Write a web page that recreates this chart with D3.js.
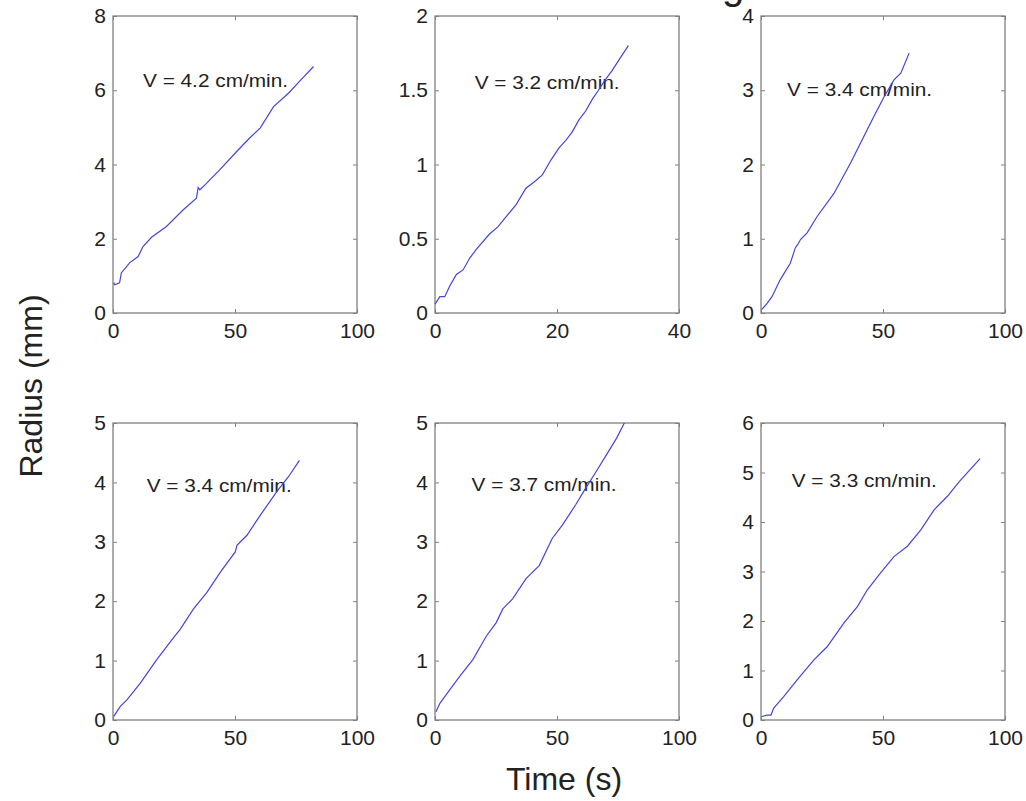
<!DOCTYPE html>
<html>
<head>
<meta charset="utf-8">
<script src="https://cdn.jsdelivr.net/npm/d3@7"></script>
<style>
  body { margin: 0; background: #fff; }
  text { font-family: Arial, "Liberation Sans", sans-serif; }
</style>
</head>
<body>
<div id="chart"></div>
<script>
// ---- data ----
const t1 = [0.3, 0.7, 2.7, 3.4, 6.8, 10.3, 12.3, 15.8, 21.9, 28.8, 34.2, 34.9, 35.6, 37.7, 43.8, 50.7, 55.5, 60.3, 65.8, 71.9, 77.0, 82.2];
const r1 = [0.82, 0.76, 0.81, 1.08, 1.35, 1.52, 1.79, 2.04, 2.33, 2.78, 3.09, 3.38, 3.32, 3.45, 3.86, 4.35, 4.68, 4.98, 5.56, 5.92, 6.28, 6.64];

const t2 = [0.0, 0.8, 1.6, 2.4, 3.5, 4.6, 5.7, 6.8, 8.9, 10.3, 11.7, 13.3, 14.9, 16.2, 17.6, 19.0, 20.3, 21.4, 22.5, 23.6, 24.7, 25.8, 26.8, 27.9, 29.0, 30.4, 31.7];
const r2 = [0.06, 0.11, 0.11, 0.18, 0.26, 0.29, 0.37, 0.43, 0.53, 0.58, 0.65, 0.73, 0.84, 0.88, 0.93, 1.03, 1.11, 1.16, 1.22, 1.30, 1.36, 1.44, 1.50, 1.57, 1.63, 1.72, 1.80];

const t3 = [0.4, 2.5, 4.5, 7.9, 12.0, 14.1, 15.0, 16.2, 18.9, 23.0, 29.9, 36.7, 42.2, 46.3, 50.4, 54.5, 57.3, 60.7];
const r3 = [0.05, 0.13, 0.22, 0.45, 0.67, 0.88, 0.92, 0.99, 1.08, 1.30, 1.61, 2.02, 2.38, 2.65, 2.91, 3.14, 3.23, 3.50];

const t4 = [0.3, 3.0, 5.7, 11.2, 18.0, 24.9, 27.6, 33.0, 38.5, 44.0, 50.1, 50.8, 54.9, 60.4, 67.2, 72.0, 76.4];
const r4 = [0.06, 0.23, 0.34, 0.62, 1.02, 1.39, 1.53, 1.87, 2.15, 2.49, 2.83, 2.94, 3.11, 3.45, 3.85, 4.10, 4.37];

const t5 = [0.4, 2.0, 6.1, 10.2, 15.6, 21.0, 25.1, 27.8, 31.8, 37.3, 42.7, 48.1, 52.2, 57.6, 61.7, 66.0, 70.5, 74.5, 77.6];
const r5 = [0.14, 0.28, 0.51, 0.74, 1.02, 1.41, 1.64, 1.87, 2.04, 2.38, 2.60, 3.06, 3.28, 3.62, 3.90, 4.18, 4.48, 4.75, 5.00];

const t6 = [0.4, 2.5, 4.1, 5.2, 9.3, 14.8, 21.6, 27.1, 34.0, 39.5, 43.6, 49.0, 54.5, 60.0, 65.5, 71.0, 76.4, 81.0, 85.5, 89.8];
const r6 = [0.07, 0.10, 0.10, 0.24, 0.47, 0.81, 1.21, 1.48, 1.96, 2.29, 2.63, 2.97, 3.30, 3.51, 3.84, 4.25, 4.52, 4.80, 5.05, 5.28];

const xMax = [100, 40, 100, 100, 100, 100];
const yMax = [8, 2, 4, 5, 5, 6];
const xTicks = [[0, 50, 100], [0, 20, 40], [0, 50, 100], [0, 50, 100], [0, 50, 100], [0, 50, 100]];
const yTicks = [[0, 2, 4, 6, 8], [0, 0.5, 1, 1.5, 2], [0, 1, 2, 3, 4], [0, 1, 2, 3, 4, 5], [0, 1, 2, 3, 4, 5], [0, 1, 2, 3, 4, 5, 6]];
const speedLabels = ["V = 4.2 cm/min.", "V = 3.2 cm/min.", "V = 3.4 cm/min.", "V = 3.4 cm/min.", "V = 3.7 cm/min.", "V = 3.3 cm/min."];
// label anchor in data units (left edge, baseline)
const labelX = [12.3, 6.5, 10.7, 13.8, 15.0, 12.6];
const labelY = [6.09, 1.51, 2.92, 3.84, 3.85, 4.70];

const times = [t1, t2, t3, t4, t5, t6];
const radii = [r1, r2, r3, r4, r5, r6];

// ---- layout ----
const W = 1026, H = 801;
const colX = [113, 435, 761];
const rowY = [16, 423];
const pw = 244, ph = 297;
const frameColor = "#808080";
const textColor = "#222";

const svg = d3.select("#chart").append("svg")
    .attr("width", W)
    .attr("height", H)
    .style("background", "#fff");

// clipped title descender at the very top (figure is cropped there)
svg.append("text")
    .attr("x", 722)
    .attr("y", -1)
    .attr("font-size", 40)
    .attr("fill", textColor)
    .text("g");

times.forEach((tt, i) => {
    const col = i % 3, row = Math.floor(i / 3);
    const g = svg.append("g")
        .attr("transform", `translate(${colX[col]},${rowY[row]})`);

    const x = d3.scaleLinear().domain([0, xMax[i]]).range([0, pw]);
    const y = d3.scaleLinear().domain([0, yMax[i]]).range([ph, 0]);

    const fmt = d => String(d);

    // bottom + left axes carry the labels, all ticks point inward
    const bx = g.append("g").attr("transform", `translate(0,${ph})`)
        .call(d3.axisBottom(x).tickValues(xTicks[i]).tickFormat(fmt)
            .tickSizeInner(-4).tickSizeOuter(0).tickPadding(10));
    const lx = g.append("g")
        .call(d3.axisLeft(y).tickValues(yTicks[i]).tickFormat(fmt)
            .tickSizeInner(-4).tickSizeOuter(0).tickPadding(7));
    const tx = g.append("g")
        .call(d3.axisTop(x).tickValues(xTicks[i]).tickFormat("")
            .tickSizeInner(-4).tickSizeOuter(0));
    const rx = g.append("g").attr("transform", `translate(${pw},0)`)
        .call(d3.axisRight(y).tickValues(yTicks[i]).tickFormat("")
            .tickSizeInner(-4).tickSizeOuter(0));

    [bx, lx, tx, rx].forEach(a => {
        a.select(".domain").remove();
        a.selectAll(".tick line").attr("stroke", frameColor);
        a.selectAll(".tick text")
            .attr("font-size", 21)
            .attr("fill", textColor)
            .style("font-family", "Arial, 'Liberation Sans', sans-serif");
    });

    // frame
    g.append("rect")
        .attr("width", pw)
        .attr("height", ph)
        .attr("fill", "none")
        .attr("stroke", frameColor)
        .attr("stroke-width", 1.3);

    // speed annotation
    g.append("text")
        .attr("x", x(labelX[i]))
        .attr("y", y(labelY[i]))
        .attr("font-size", 18)
        .attr("fill", textColor)
        .attr("textLength", 145)
        .attr("lengthAdjust", "spacingAndGlyphs")
        .text(speedLabels[i]);

    // growth curve
    const pts = tt.map((t, k) => [t, radii[i][k]]);
    g.append("path")
        .datum(pts)
        .attr("fill", "none")
        .attr("stroke", "#4545d8")
        .attr("stroke-width", 1.2)
        .attr("d", d3.line().x(d => x(d[0])).y(d => y(d[1])));
});

// axis titles
svg.append("text")
    .attr("transform", "translate(42,386) rotate(-90)")
    .attr("text-anchor", "middle")
    .attr("font-size", 32)
    .attr("fill", textColor)
    .text("Radius (mm)");

svg.append("text")
    .attr("x", 564)
    .attr("y", 790)
    .attr("text-anchor", "middle")
    .attr("font-size", 32)
    .attr("fill", textColor)
    .text("Time (s)");
</script>
</body>
</html>
